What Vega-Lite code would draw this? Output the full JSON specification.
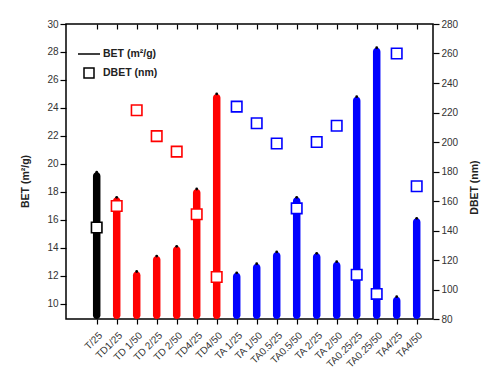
{
  "$schema": "https://vega.github.io/schema/vega-lite/v6.json",
  "width": 367,
  "height": 295,
  "autosize": {"type": "none"},
  "padding": {"left": 66, "top": 24, "right": 52, "bottom": 60},
  "background": "white",
  "config": {
    "view": {"stroke": "black", "strokeWidth": 1.5},
    "font": "Liberation Sans",
    "axis": {
      "domain": false,
      "grid": false,
      "tickColor": "black",
      "tickWidth": 1.2,
      "labelFont": "Liberation Sans",
      "labelFontSize": 10,
      "labelColor": "#333333",
      "titleFont": "Liberation Sans",
      "titleFontSize": 10.5,
      "titleFontWeight": "bold",
      "titleColor": "#222222"
    }
  },
  "data": {
    "values": [
      {"name": "T/25", "group": "T", "bet": 19.4, "dbet": 142},
      {"name": "TD1/25", "group": "TD", "bet": 17.6, "dbet": 156.6},
      {"name": "TD 1/50", "group": "TD", "bet": 12.3, "dbet": 221.5},
      {"name": "TD 2/25", "group": "TD", "bet": 13.4, "dbet": 204},
      {"name": "TD 2/50", "group": "TD", "bet": 14.1, "dbet": 193.5},
      {"name": "TD4/25", "group": "TD", "bet": 18.2, "dbet": 151},
      {"name": "TD4/50", "group": "TD", "bet": 25.0, "dbet": 108.5},
      {"name": "TA 1/25", "group": "TA", "bet": 12.2, "dbet": 224},
      {"name": "TA 1/50", "group": "TA", "bet": 12.85, "dbet": 212.7},
      {"name": "TA0.5/25", "group": "TA", "bet": 13.7, "dbet": 199},
      {"name": "TA0.5/50", "group": "TA", "bet": 17.6, "dbet": 155},
      {"name": "TA 2/25", "group": "TA", "bet": 13.6, "dbet": 200},
      {"name": "TA 2/50", "group": "TA", "bet": 13.0, "dbet": 211},
      {"name": "TA0.25/25", "group": "TA", "bet": 24.8, "dbet": 110},
      {"name": "TA0.25/50", "group": "TA", "bet": 28.3, "dbet": 97},
      {"name": "TA4/25", "group": "TA", "bet": 10.5, "dbet": 260},
      {"name": "TA4/50", "group": "TA", "bet": 16.1, "dbet": 170}
    ]
  },
  "layer": [
    {
      "mark": {"type": "bar", "width": 7.5, "cornerRadiusEnd": 3.75},
      "encoding": {
        "x": {
          "field": "name", "type": "nominal", "sort": null,
          "scale": {"type": "point", "range": [30.7, 350.7], "padding": 0},
          "axis": {"title": null, "orient": "bottom", "labelAngle": -45, "tickSize": 5, "labelPadding": 6}
        },
        "y": {
          "field": "bet", "type": "quantitative",
          "scale": {"domain": [8.9, 30], "zero": false, "nice": false},
          "axis": {"title": "BET (m²/g)", "orient": "left", "values": [10, 12, 14, 16, 18, 20, 22, 24, 26, 28, 30], "tickSize": 6, "titlePadding": 16, "titleY": 157}
        },
        "y2": {"datum": 8.9},
        "color": {
          "field": "group", "type": "nominal",
          "scale": {"domain": ["T", "TD", "TA"], "range": ["#000000", "#ff0000", "#0000ff"]},
          "legend": null
        }
      }
    },
    {
      "mark": {"type": "point", "shape": "circle", "filled": true, "size": 8, "color": "black", "opacity": 1},
      "encoding": {
        "x": {
          "field": "name", "type": "nominal", "sort": null,
          "scale": {"type": "point", "range": [30.7, 350.7], "padding": 0},
          "axis": {"title": null, "orient": "top", "labels": true, "labelOpacity": 0, "labelFontSize": 1, "tickSize": 5, "offset": -5}
        },
        "y": {
          "field": "bet", "type": "quantitative",
          "scale": {"domain": [8.9, 30], "zero": false, "nice": false},
          "axis": null
        }
      }
    },
    {
      "mark": {"type": "point", "shape": "square", "filled": false, "fill": "white", "fillOpacity": 1, "strokeWidth": 1.6, "size": 110, "opacity": 1},
      "encoding": {
        "x": {
          "field": "name", "type": "nominal", "sort": null,
          "scale": {"type": "point", "range": [30.7, 350.7], "padding": 0},
          "axis": null
        },
        "y": {
          "field": "dbet", "type": "quantitative",
          "scale": {"domain": [80, 280], "zero": false, "nice": false},
          "axis": {"title": "DBET (nm)", "orient": "right", "titleAngle": 270, "values": [80, 100, 120, 140, 160, 180, 200, 220, 240, 260, 280], "tickSize": 6, "titlePadding": 22, "titleY": 163}
        },
        "color": {
          "field": "group", "type": "nominal",
          "scale": {"domain": ["T", "TD", "TA"], "range": ["#000000", "#ff0000", "#0000ff"]},
          "legend": null
        }
      }
    },
    {
      "transform": [{"filter": "false"}],
      "mark": {"type": "point", "filled": false, "color": "black", "strokeWidth": 1.5, "size": 100, "opacity": 1},
      "encoding": {
        "x": {
          "field": "name", "type": "nominal",
          "scale": {"type": "point", "range": [30.7, 350.7], "padding": 0},
          "axis": null
        },
        "y": {
          "field": "dbet", "type": "quantitative",
          "scale": {"domain": [80, 280], "zero": false, "nice": false},
          "axis": null
        },
        "shape": {
          "datum": "DBET (nm)",
          "scale": {"domain": ["BET (m²/g)", "DBET (nm)"], "range": ["M-2.2,0H2.2", "square"]},
          "legend": {
            "title": null, "orient": "none", "legendX": 17, "legendY": 24,
            "labelFontSize": 10.5, "labelFontWeight": "bold", "labelColor": "#222222", "rowPadding": 5, "labelOffset": 8
          }
        }
      }
    }
  ],
  "resolve": {
    "scale": {"x": "independent", "y": "independent", "color": "shared", "shape": "independent"},
    "axis": {"x": "independent", "y": "independent"}
  }
}
